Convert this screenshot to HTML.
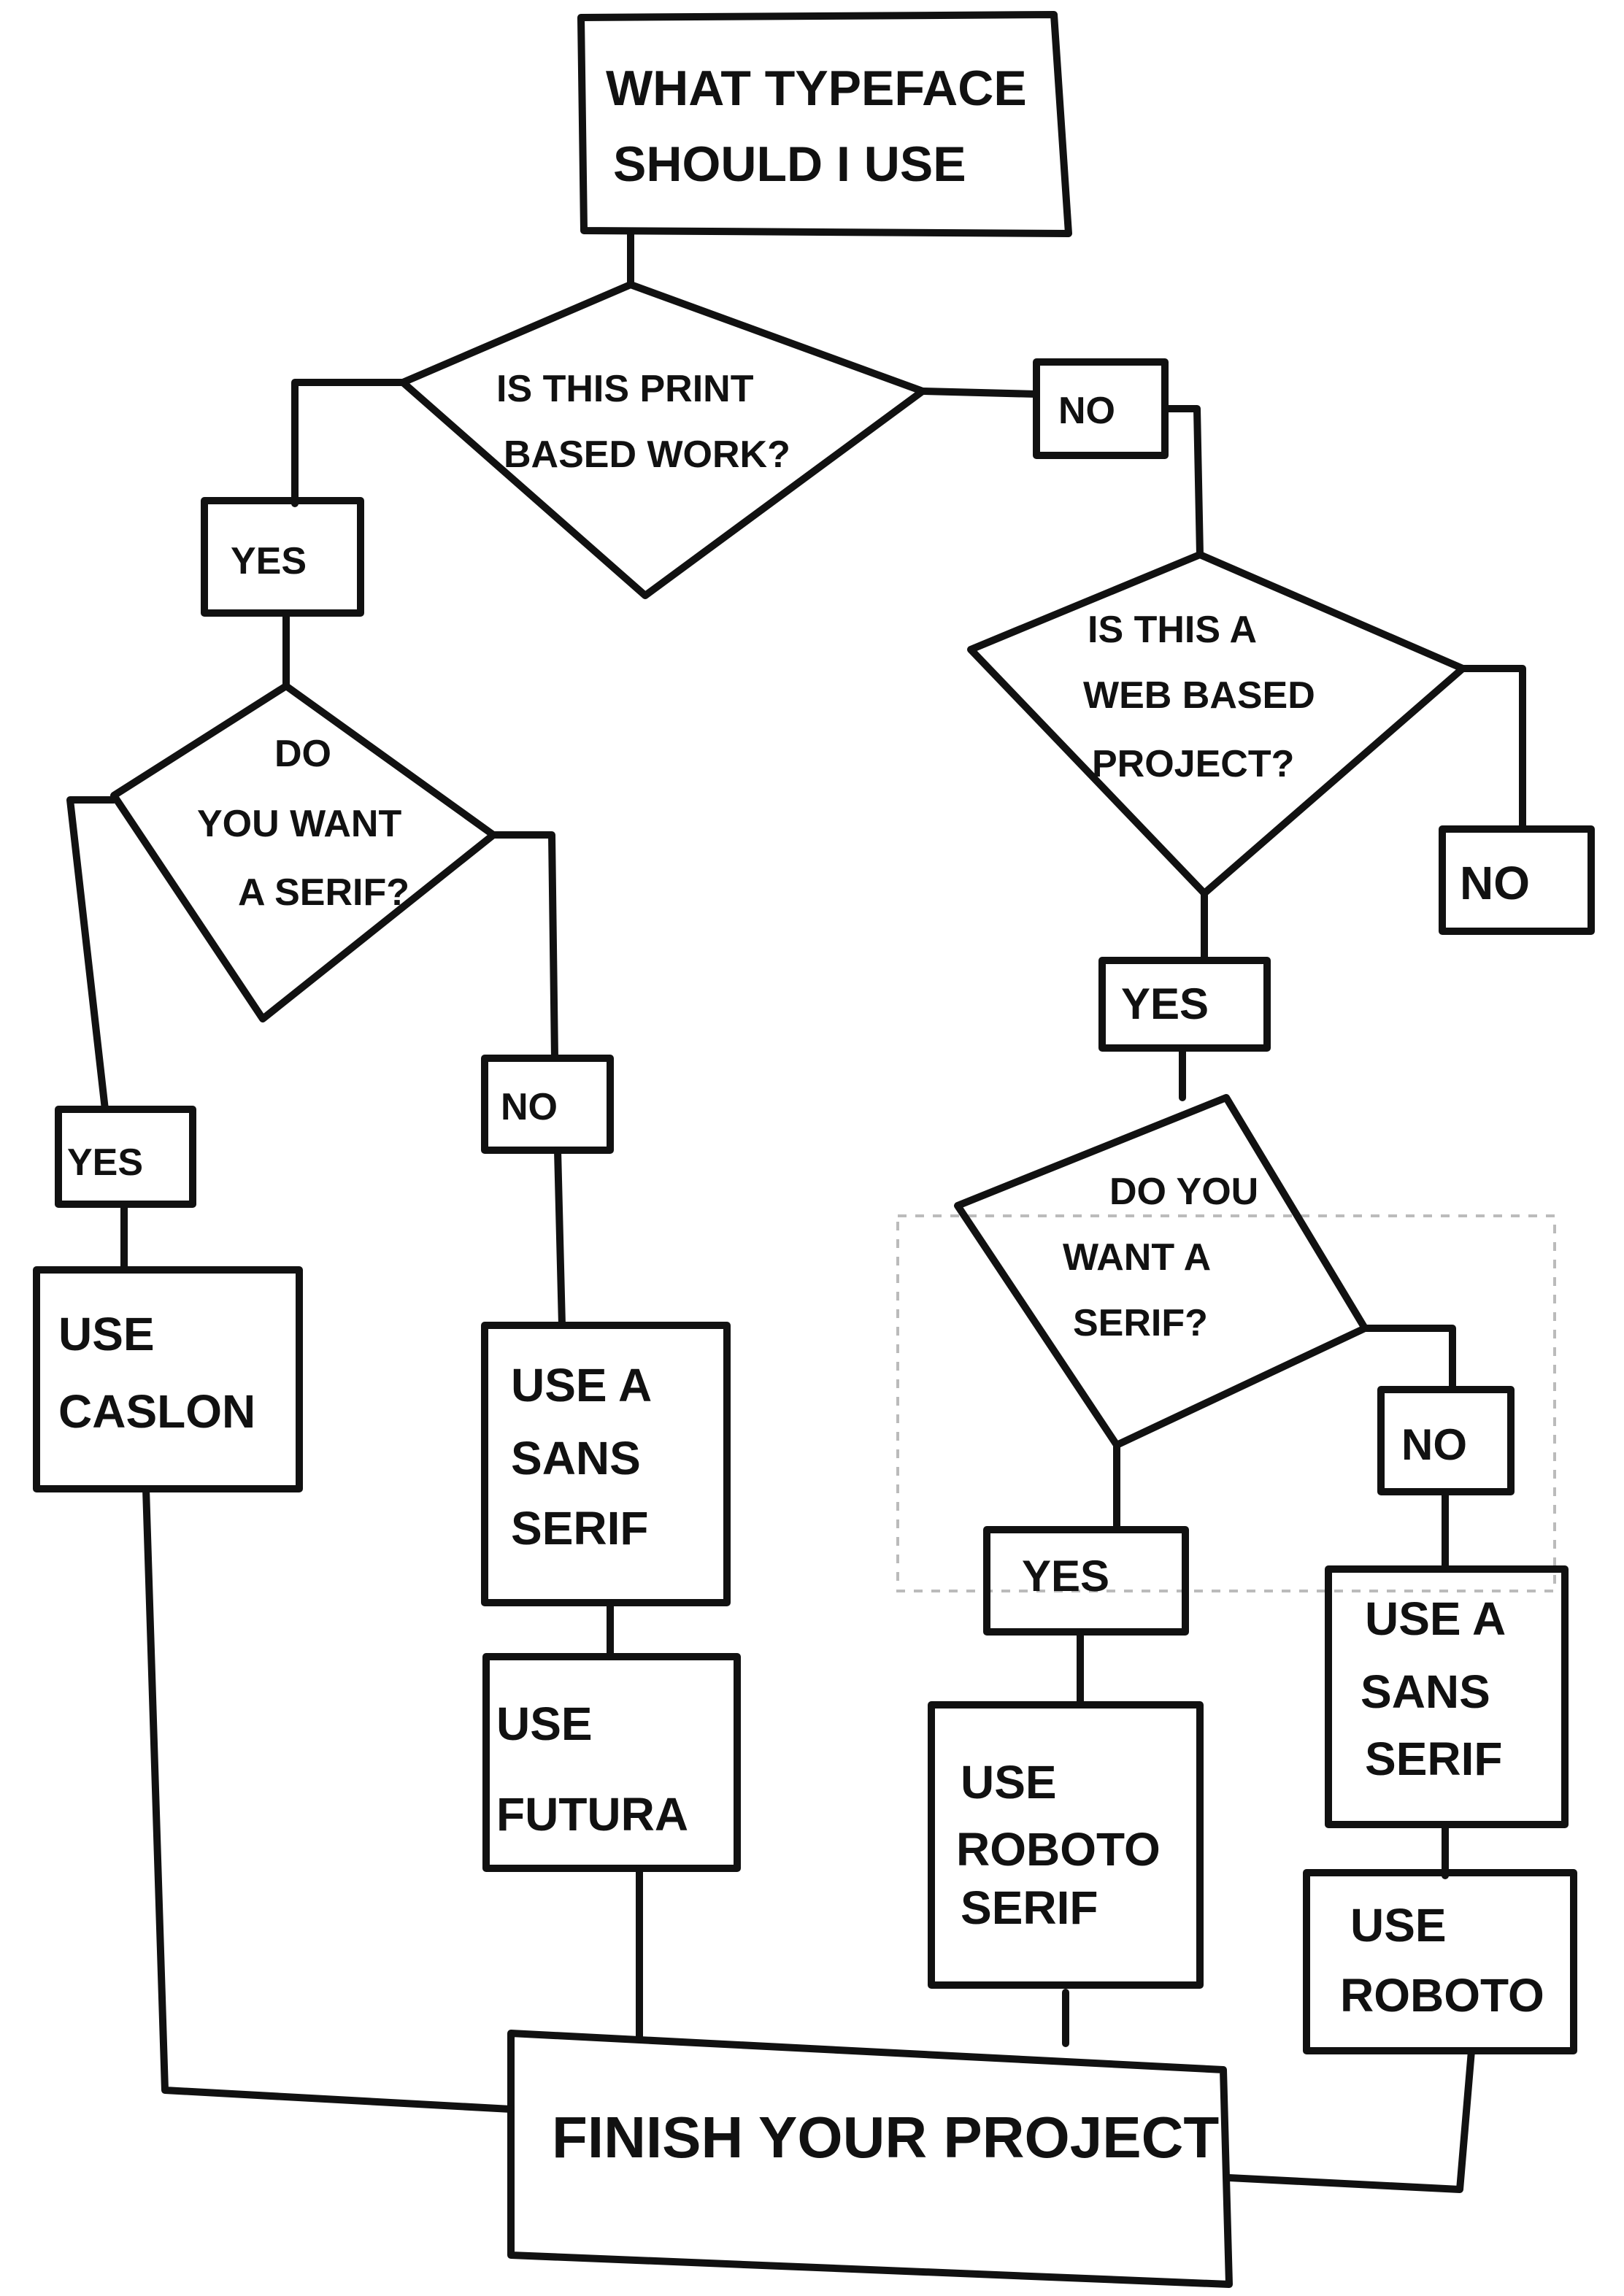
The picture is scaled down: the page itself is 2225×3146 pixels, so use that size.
<!DOCTYPE html>
<html><head><meta charset="utf-8"><style>
html,body{margin:0;padding:0;background:#fff;}
svg{display:block}
text{font-family:"Liberation Sans",sans-serif;font-weight:bold;fill:#111;}
</style></head><body>
<svg width="2225" height="3146" viewBox="0 0 1112.5 1573" xmlns="http://www.w3.org/2000/svg">
<rect x="0" y="0" width="1112.5" height="1573" fill="#fff"/>
<rect x="615" y="833" width="450" height="257" fill="none" stroke="#bbb" stroke-width="2" stroke-dasharray="6,6"/>
<g fill="none" stroke="#111" stroke-width="5" stroke-linejoin="round" stroke-linecap="round">
<!-- top box -->
<polygon points="398,12 722,10 732,160 400,158"/>
<line x1="432" y1="160" x2="432" y2="195"/>
<!-- diamond 1 -->
<polygon points="432,195 632,268 442,408 276,262"/>
<polyline points="276,262 202,262 202,345"/>
<rect x="140" y="343" width="107" height="77"/>
<line x1="632" y1="268" x2="710" y2="270"/>
<rect x="710" y="248" width="88" height="64"/>
<polyline points="798,280 820,280 822,380"/>
<!-- diamond 2 -->
<polygon points="822,380 1002,458 825,612 665,445"/>
<polyline points="1002,458 1043,458 1043,568"/>
<rect x="988" y="568" width="102" height="70"/>
<line x1="825" y1="612" x2="825" y2="658"/>
<rect x="755" y="658" width="113" height="60"/>
<line x1="810" y1="718" x2="810" y2="752"/>
<!-- left branch -->
<line x1="196" y1="420" x2="196" y2="470"/>
<polygon points="196,470 338,572 180,698 78,545"/>
<polyline points="78,548 48,548 72,760"/>
<rect x="40" y="760" width="92" height="65"/>
<line x1="85" y1="825" x2="85" y2="870"/>
<rect x="25" y="870" width="180" height="150"/>
<polyline points="338,572 378,572 380,725"/>
<rect x="332" y="725" width="86" height="63"/>
<line x1="382" y1="788" x2="385" y2="908"/>
<rect x="332" y="908" width="166" height="190"/>
<line x1="418" y1="1098" x2="418" y2="1135"/>
<rect x="333" y="1135" width="172" height="145"/>
<line x1="438" y1="1280" x2="438" y2="1395"/>
<!-- finish -->
<polygon points="350,1393 838,1418 842,1565 350,1545"/>
<polyline points="100,1020 113,1432 350,1445"/>
<polyline points="842,1492 1000,1500 1008,1405"/>
<!-- diamond 4 -->
<polygon points="840,752 935,910 765,990 656,826"/>
<line x1="765" y1="990" x2="765" y2="1048"/>
<rect x="676" y="1048" width="136" height="70"/>
<line x1="740" y1="1118" x2="740" y2="1168"/>
<rect x="638" y="1168" width="184" height="192"/>
<line x1="730" y1="1365" x2="730" y2="1400"/>
<polyline points="935,910 995,910 995,952"/>
<rect x="946" y="952" width="89" height="70"/>
<line x1="990" y1="1022" x2="990" y2="1075"/>
<rect x="910" y="1075" width="162" height="175"/>
<line x1="990" y1="1250" x2="990" y2="1285"/>
<rect x="895" y="1283" width="183" height="122"/>
</g>
<g font-size="34">
<text x="415" y="72">WHAT TYPEFACE</text>
<text x="420" y="124">SHOULD I USE</text>
</g>
<g font-size="26">
<text x="340" y="275">IS THIS PRINT</text>
<text x="345" y="320">BASED WORK?</text>
<text x="725" y="290">NO</text>
<text x="158" y="393">YES</text>
<text x="745" y="440">IS THIS A</text>
<text x="742" y="485">WEB BASED</text>
<text x="748" y="532">PROJECT?</text>
<text x="1000" y="616" font-size="32">NO</text>
<text x="768" y="698" font-size="30">YES</text>
<text x="188" y="525">DO</text>
<text x="135" y="573">YOU WANT</text>
<text x="163" y="620">A SERIF?</text>
<text x="46" y="805">YES</text>
<text x="343" y="767">NO</text>
<text x="760" y="825">DO YOU</text>
<text x="728" y="870">WANT A</text>
<text x="735" y="915">SERIF?</text>
<text x="700" y="1090" font-size="30">YES</text>
<text x="960" y="1000" font-size="30">NO</text>
</g>
<g font-size="32">
<text x="40" y="925">USE</text>
<text x="40" y="978">CASLON</text>
<text x="350" y="960">USE A</text>
<text x="350" y="1010">SANS</text>
<text x="350" y="1058">SERIF</text>
<text x="340" y="1192">USE</text>
<text x="340" y="1254">FUTURA</text>
<text x="658" y="1232">USE</text>
<text x="655" y="1278">ROBOTO</text>
<text x="658" y="1318">SERIF</text>
<text x="935" y="1120">USE A</text>
<text x="932" y="1170">SANS</text>
<text x="935" y="1216">SERIF</text>
<text x="925" y="1330">USE</text>
<text x="918" y="1378">ROBOTO</text>
</g>
<text x="378" y="1478" font-size="40">FINISH YOUR PROJECT</text>
</svg>
</body></html>
